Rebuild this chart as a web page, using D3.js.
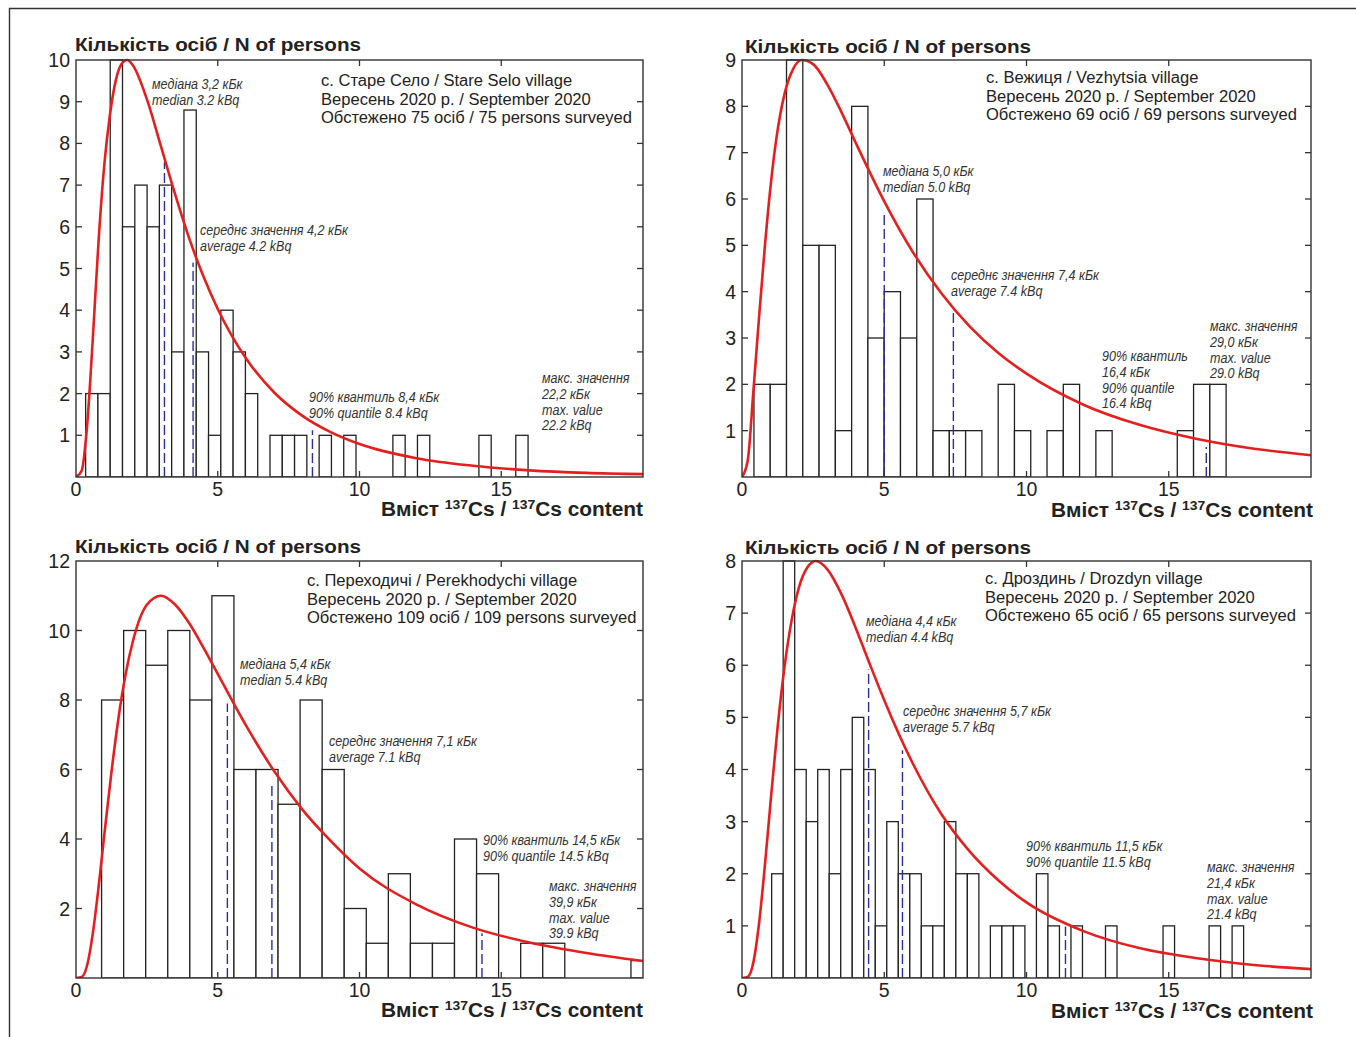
<!DOCTYPE html>
<html><head><meta charset="utf-8">
<script src="https://cdn.jsdelivr.net/npm/d3@7"></script>
<style>body{margin:0;background:#fff}svg{display:block}</style>
</head><body>
<svg id="chart" width="1356" height="1037"></svg>
<script>
// ================= DATA =================
const xTickValues = [0, 5, 10, 15];
const yAxisTitle = "Кількість осіб / N of persons";
const xAxisTitleParts = ["Вміст ", "137", "Cs / ", "137", "Cs content"];

// Panel A — Stare Selo
const aInfo = ["с. Старе Село / Stare Selo village", "Вересень 2020 р. / September 2020", "Обстежено 75 осіб / 75 persons surveyed"];
const aBinStart = 0.34, aBinWidth = 0.4335;
const aCounts = [2,2,10,6,7,6,7,3,8.8,3,1,4,3,2,0,1,1,1,0,1,0,1,0,0,0,1,0,1,0,0,0,0,1,0,0,1];
const aCurveX = [0,0.2,0.4,0.6,0.8,1,1.2,1.4,1.6,1.8,2,2.5,3,3.5,4,4.5,5,6,7,8,9,10,12,14,16,18,20];
const aCurveY = [0,0.15,1.3,3.4,5.7,7.5,8.7,9.5,9.9,10.0,9.88,9.06,7.92,6.77,5.71,4.80,4.03,2.84,2.02,1.46,1.07,0.79,0.45,0.27,0.16,0.10,0.07];
const aStatX = [3.12, 4.13, 8.34];
const aStatTop = [7.56, 5.14, 1.12];
const aYTicks = [1,2,3,4,5,6,7,8,9,10];
const aLabels = [
  ["медіана 3,2 кБк", "median 3.2 kBq"],
  ["середнє значення 4,2 кБк", "average 4.2 kBq"],
  ["90% квантиль 8,4 кБк", "90% quantile 8.4 kBq"],
  ["макс. значення", "22,2 кБк", "max. value", "22.2 kBq"]];

// Panel B — Vezhytsia
const bInfo = ["с. Вежиця / Vezhytsia village", "Вересень 2020 р. / September 2020", "Обстежено 69 осіб / 69 persons surveyed"];
const bBinStart = 0.42, bBinWidth = 0.5723;
const bCounts = [2,2,9,5,5,1,8,3,4,3,6,1,1,1,0,2,1,0,1,2,0,1,0,0,0,0,1,2,2];
const bCurveX = [0,0.2,0.4,0.6,0.8,1,1.2,1.5,1.8,2.1,2.5,3,3.5,4,5,6,7,8,9,10,12,14,16,18,20];
const bCurveY = [0,0.35,1.85,3.45,4.95,6.25,7.27,8.28,8.81,9.0,8.91,8.47,7.87,7.21,5.95,4.86,3.97,3.25,2.68,2.23,1.56,1.12,0.82,0.61,0.47];
const bStatX = [5.0, 7.43, 16.32];
const bStatTop = [5.69, 3.54, 0.65];
const bYTicks = [1,2,3,4,5,6,7,8,9];
const bLabels = [
  ["медіана 5,0 кБк", "median 5.0 kBq"],
  ["середнє значення 7,4 кБк", "average 7.4 kBq"],
  ["90% квантиль", "16,4 кБк", "90% quantile", "16.4 kBq"],
  ["макс. значення", "29,0 кБк", "max. value", "29.0 kBq"]];

// Panel C — Perekhodychi
const cInfo = ["с. Переходичі / Perekhodychi village", "Вересень 2020 р. / September 2020", "Обстежено 109 осіб / 109 persons surveyed"];
const cBinStart = 0.903, cBinWidth = 0.778;
const cCounts = [8,10,9,10,8,11,6,6,5,8,6,2,1,3,1,1,4,3,0,1,1,0,0,0,0.5];
const cCurveX = [0,0.2,0.4,0.6,0.8,1,1.25,1.5,1.75,2,2.5,3,3.5,4,4.5,5,6,7,8,9,10,12,14,16,18,20];
const cCurveY = [0,0.03,0.39,1.32,2.64,4.13,5.92,7.49,8.74,9.67,10.74,11.0,10.74,10.20,9.50,8.75,7.26,5.94,4.83,3.93,3.15,2.12,1.45,1.02,0.72,0.49];
const cStatX = [5.34, 6.91, 14.32];
const cStatTop = [7.9, 5.63, 1.29];
const cYTicks = [2,4,6,8,10,12];
const cLabels = [
  ["медіана 5,4 кБк", "median 5.4 kBq"],
  ["середнє значення 7,1 кБк", "average 7.1 kBq"],
  ["90% квантиль 14,5 кБк", "90% quantile 14.5 kBq"],
  ["макс. значення", "39,9 кБк", "max. value", "39.9 kBq"]];

// Panel D — Drozdyn
const dInfo = ["с. Дроздинь / Drozdyn village", "Вересень 2020 р. / September 2020", "Обстежено 65 осіб / 65 persons surveyed"];
const dBinStart = 1.043, dBinWidth = 0.4046;
const dCounts = [2,8,4,3,4,2,4,5,4,1,3,2,2,1,1,3,2,2,0,1,1,1,0,2,1,0,1,0,0,1,0,0,0,0,1,0,0,0,1,0,1];
const dCurveX = [0,0.2,0.4,0.6,0.8,1,1.25,1.5,1.75,2,2.3,2.6,3,3.5,4,4.5,5,6,7,8,9,10,12,14,16,18,20];
const dCurveY = [0,0.02,0.3,1.05,2.13,3.35,4.80,5.99,6.88,7.49,7.88,8.0,7.84,7.36,6.71,6.01,5.33,4.12,3.15,2.43,1.88,1.45,0.9,0.57,0.38,0.25,0.17];
const dStatX = [4.45, 5.64, 11.37];
const dStatTop = [5.92, 4.37, 0.99];
const dYTicks = [1,2,3,4,5,6,7,8];
const dLabels = [
  ["медіана 4,4 кБк", "median 4.4 kBq"],
  ["середнє значення 5,7 кБк", "average 5.7 kBq"],
  ["90% квантиль 11,5 кБк", "90% quantile 11.5 kBq"],
  ["макс. значення", "21,4 кБк", "max. value", "21.4 kBq"]];

// ================= LAYOUT / STYLE =================
const panels = [
  {info:aInfo, bs:aBinStart, bw:aBinWidth, counts:aCounts, cx:aCurveX, cy:aCurveY, sx:aStatX, st:aStatTop, yt:aYTicks, labels:aLabels, yMax:10,
   L:{x0:76, x1:643, yT:60, yB:477, title:[75,51], xTitle:[643,516], info:[321,86], lab:[[152,89],[200,235],[309,402],[542,383]]}},
  {info:bInfo, bs:bBinStart, bw:bBinWidth, counts:bCounts, cx:bCurveX, cy:bCurveY, sx:bStatX, st:bStatTop, yt:bYTicks, labels:bLabels, yMax:9,
   L:{x0:742, x1:1311, yT:60, yB:477, title:[745,53], xTitle:[1313,517], info:[986,83], lab:[[883,176],[951,280],[1102,361],[1210,331]]}},
  {info:cInfo, bs:cBinStart, bw:cBinWidth, counts:cCounts, cx:cCurveX, cy:cCurveY, sx:cStatX, st:cStatTop, yt:cYTicks, labels:cLabels, yMax:12,
   L:{x0:76, x1:643, yT:561, yB:978, title:[75,553], xTitle:[643,1017], info:[307,586], lab:[[240,669],[329,746],[483,845],[549,891]]}},
  {info:dInfo, bs:dBinStart, bw:dBinWidth, counts:dCounts, cx:dCurveX, cy:dCurveY, sx:dStatX, st:dStatTop, yt:dYTicks, labels:dLabels, yMax:8,
   L:{x0:742, x1:1311, yT:561, yB:978, title:[745,554], xTitle:[1313,1018], info:[985,584], lab:[[866,626],[903,716],[1026,851],[1207,872]]}}
];

const INK = "#222", FRAME = "#333", RED = "#e3201f", BLUE = "#2a2f9c";
const NARROW = "'Liberation Sans Narrow','Liberation Sans',Arial,sans-serif";
const BOLD = "'Liberation Sans',Arial,sans-serif";
const INFO = "'Liberation Sans',Arial,sans-serif";
const INFO_LS = 18.5, LAB_LS = 15.8, TICK = 6;

const svg = d3.select("#chart");

// page border (top and left edge)
svg.append("path").attr("d", "M9.5,1037 V8.5 H1356").attr("fill", "none").attr("stroke", FRAME).attr("stroke-width", 1.4);

const infoTexts = [], labTexts = [];

panels.forEach((p, pi) => {
  const L = p.L;
  const x = d3.scaleLinear().domain([0, 20]).range([L.x0, L.x1]);
  const y = d3.scaleLinear().domain([0, p.yMax]).range([L.yB, L.yT]);
  const g = svg.append("g");
  const clipId = "clip" + pi;
  svg.append("clipPath").attr("id", clipId).append("rect")
    .attr("x", L.x0).attr("y", L.yT - 2).attr("width", L.x1 - L.x0).attr("height", L.yB - L.yT + 2);

  const plot = g.append("g").attr("clip-path", `url(#${clipId})`);
  // histogram bars
  const bars = p.counts.map((c, i) => ({x0: p.bs + i * p.bw, c})).filter(d => d.c > 0);
  plot.selectAll("rect.bar").data(bars).join("rect").attr("class", "bar")
    .attr("x", d => x(d.x0)).attr("width", x(p.bw) - x(0))
    .attr("y", d => y(d.c)).attr("height", d => y(0) - y(d.c))
    .attr("fill", "#fff").attr("stroke", INK).attr("stroke-width", 1.3);

  // dashed statistic lines
  plot.selectAll("line.stat").data(p.sx.map((v, i) => ({v, t: p.st[i]}))).join("line")
    .attr("x1", d => x(d.v)).attr("x2", d => x(d.v)).attr("y1", y(0)).attr("y2", d => y(d.t))
    .attr("stroke", BLUE).attr("stroke-width", 1.4).attr("stroke-dasharray", "10,4");

  // fitted curve
  const line = d3.line().x(d => x(d[0])).y(d => y(d[1])).curve(d3.curveMonotoneX);
  plot.append("path").datum(p.cx.map((v, i) => [v, p.cy[i]]))
    .attr("d", line).attr("fill", "none").attr("stroke", RED).attr("stroke-width", 2.6);

  // frame
  g.append("rect").attr("x", L.x0).attr("y", L.yT).attr("width", L.x1 - L.x0).attr("height", L.yB - L.yT)
    .attr("fill", "none").attr("stroke", FRAME).attr("stroke-width", 1.4);

  // ticks (inward on all four sides)
  const tk = g.append("g").attr("stroke", FRAME).attr("stroke-width", 1.3);
  p.yt.filter(v => v < p.yMax).forEach(v => {
    tk.append("line").attr("x1", L.x0).attr("x2", L.x0 + TICK).attr("y1", y(v)).attr("y2", y(v));
    tk.append("line").attr("x1", L.x1).attr("x2", L.x1 - TICK).attr("y1", y(v)).attr("y2", y(v));
  });
  xTickValues.filter(v => v > 0).forEach(v => {
    tk.append("line").attr("x1", x(v)).attr("x2", x(v)).attr("y1", L.yB).attr("y2", L.yB - TICK);
    tk.append("line").attr("x1", x(v)).attr("x2", x(v)).attr("y1", L.yT).attr("y2", L.yT + TICK);
  });

  // tick labels
  g.selectAll("text.xt").data(xTickValues).join("text")
    .attr("x", d => x(d)).attr("y", L.yB + 18.5).attr("text-anchor", "middle")
    .attr("font-family", NARROW).attr("font-size", 19.5).attr("fill", INK).text(d => d);
  g.selectAll("text.yt").data(p.yt).join("text")
    .attr("x", L.x0 - 6).attr("y", d => y(d)).attr("dy", "0.36em").attr("text-anchor", "end")
    .attr("font-family", NARROW).attr("font-size", 19.5).attr("fill", INK).text(d => d);

  // axis titles
  g.append("text").attr("x", L.title[0]).attr("y", L.title[1])
    .attr("font-family", BOLD).attr("font-weight", "bold").attr("font-size", 19)
    .attr("fill", INK).attr("textLength", 286).attr("lengthAdjust", "spacingAndGlyphs").text(yAxisTitle);
  const xt = g.append("text").attr("class", "xtitle").attr("x", L.xTitle[0]).attr("y", L.xTitle[1]).attr("text-anchor", "end")
    .attr("font-family", BOLD).attr("font-weight", "bold").attr("font-size", 19.5).attr("fill", INK);
  xAxisTitleParts.forEach((s, i) => {
    const sup = (i === 1 || i === 3);
    xt.append("tspan").attr("font-size", sup ? 13 : 19.5)
      .attr("dy", sup ? -7 : (i === 0 ? 0 : 7)).text(s);
  });

  // info block
  p.info.forEach((s, i) => {
    const t = g.append("text").attr("x", L.info[0]).attr("y", L.info[1] + i * INFO_LS)
      .attr("font-family", INFO).attr("font-size", 16).attr("fill", INK).text(s);
    infoTexts.push(t);
  });

  // annotations
  p.labels.forEach((lines, k) => {
    lines.forEach((s, j) => {
      const t = g.append("text").attr("x", L.lab[k][0]).attr("y", L.lab[k][1] + j * LAB_LS)
        .attr("font-family", NARROW).attr("font-style", "italic").attr("font-size", 14)
        .attr("fill", "#333").text(s);
      labTexts.push(t);
    });
  });
});

// condense the info lines and annotations to the reference's narrow face
function condense(list, refText, target) {
  const f = target / refText.node().getComputedTextLength();
  list.forEach(t => {
    const w = t.node().getComputedTextLength();
    t.attr("textLength", w * f).attr("lengthAdjust", "spacingAndGlyphs");
  });
}
condense(infoTexts, infoTexts[2], 311);
condense(labTexts, labTexts[2], 148);

// x title width fit
svg.selectAll("text.xtitle").attr("textLength", 262).attr("lengthAdjust", "spacingAndGlyphs");
</script>
</body></html>
